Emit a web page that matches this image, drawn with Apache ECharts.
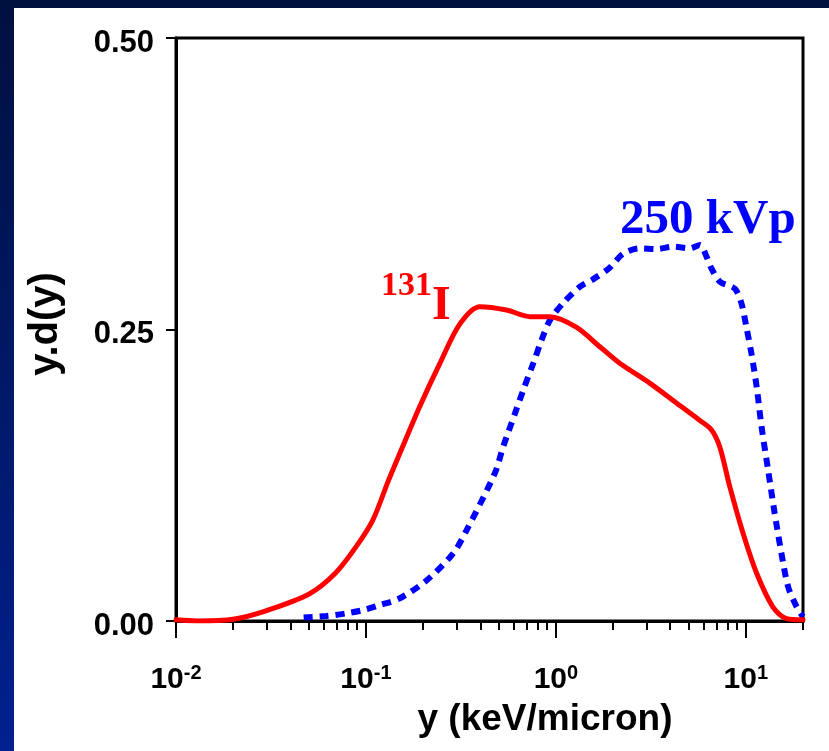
<!DOCTYPE html>
<html>
<head>
<meta charset="utf-8">
<script src="https://cdn.jsdelivr.net/npm/echarts@6/dist/echarts.min.js"></script>
<style>
html,body{margin:0;padding:0;}
body{width:829px;height:751px;background:linear-gradient(to bottom,#00103f 0%,#001a6e 60%,#00218f 100%);}
#chart{width:829px;height:751px;}
</style>
</head>
<body>
<div id="chart"></div>
<script>
// ---- data ----
const seriesNames = ['131I', '250 kVp'];
const iodineX = [0.01, 0.013, 0.02, 0.03, 0.05, 0.069, 0.089, 0.109, 0.131, 0.151, 0.192, 0.245, 0.313, 0.398, 0.55, 0.73, 0.93, 1.28, 1.71, 2.17, 3.12, 4.31, 5.73, 6.59, 7.3, 8.24, 9.68, 11.4, 13.9, 16.4, 20];
const iodineY = [0.001, 0.0, 0.0015, 0.009, 0.023, 0.041, 0.064, 0.087, 0.12, 0.144, 0.184, 0.221, 0.255, 0.2696, 0.2667, 0.261, 0.261, 0.252, 0.235, 0.221, 0.204, 0.187, 0.172, 0.164, 0.149, 0.115, 0.075, 0.041, 0.012, 0.002, 0.001];
const kvpX = [0.047, 0.062, 0.079, 0.097, 0.1186, 0.151, 0.209, 0.288, 0.339, 0.477, 0.528, 0.609, 0.673, 0.76, 0.841, 0.93, 1.09, 1.34, 1.55, 1.92, 2.26, 2.77, 3.39, 4.14, 5.07, 5.73, 6.21, 6.59, 7.3, 8.75, 9.48, 10.07, 10.7, 11.4, 12.1, 13.1, 14.2, 15.4, 16.7, 18.5, 20];
const kvpY = [0.003, 0.0043, 0.0066, 0.0094, 0.0137, 0.0195, 0.035, 0.058, 0.078, 0.1267, 0.1495, 0.178, 0.198, 0.221, 0.241, 0.258, 0.2725, 0.2867, 0.2925, 0.303, 0.315, 0.3196, 0.319, 0.321, 0.3196, 0.3225, 0.3125, 0.3025, 0.291, 0.285, 0.2725, 0.252, 0.2296, 0.201, 0.1667, 0.1295, 0.092, 0.058, 0.0294, 0.0123, 0.0037];
const xMajorTicks = [0.01, 0.1, 1, 10];
const xMajorExponents = ['-2', '-1', '0', '1'];
const xMinorTicks = [0.02,0.03,0.04,0.05,0.06,0.07,0.08,0.09,0.2,0.3,0.4,0.5,0.6,0.7,0.8,0.9,2,3,4,5,6,7,8,9,20];
const yTicks = [0, 0.25, 0.5];
const xTitle = 'y (keV/micron)';
const yTitle = 'y.d(y)';

const SANS = "'Liberation Sans', Arial, sans-serif";
const SERIF = "'Liberation Serif', 'Times New Roman', serif";

const chart = echarts.init(document.getElementById('chart'), null, {renderer: 'canvas'});
const zip = (xs, ys) => xs.map((x, i) => [x, ys[i]]);

chart.setOption({
  backgroundColor: 'transparent',
  animation: false,
  grid: {left: 176, top: 38, right: 26, bottom: 130, show: true, borderColor: '#000', borderWidth: 3, backgroundColor: 'transparent'},
  graphic: [
    {type: 'rect', z: -10, silent: true, shape: {x: 14, y: 8, width: 815, height: 743}, style: {fill: '#ffffff'}},
    {type: 'text', x: 381, y: 269, style: {text: '131', font: 'bold 34px ' + SERIF, fill: '#ff0000'}},
    {type: 'text', x: 432, y: 283, style: {text: 'I', font: 'bold 48px ' + SERIF, fill: '#ff0000'}},
    {type: 'text', x: 620, y: 196, style: {text: '250 kVp', font: 'bold 49px ' + SERIF, fill: '#0000ff'}},
    {type: 'text', x: 545, y: 720, style: {text: xTitle, font: 'bold 37px ' + SANS, fill: '#000', align: 'center', verticalAlign: 'middle'}},
    {type: 'text', x: 46, y: 324, rotation: Math.PI / 2, style: {text: yTitle, font: 'bold 40px ' + SANS, fill: '#000', align: 'center', verticalAlign: 'middle'}}
  ],
  xAxis: [
    {
      type: 'log', logBase: 10, min: 0.01, max: 20,
      axisLine: {show: true, onZero: false, lineStyle: {color: '#000', width: 3}},
      axisTick: {show: true, inside: false, length: 17, lineStyle: {color: '#000', width: 2}, customValues: xMajorTicks},
      axisLabel: {
        show: true, margin: 42, customValues: xMajorTicks, color: '#000',
        formatter: function (v) {
          const idx = xMajorTicks.findIndex(t => Math.abs(Math.log10(t) - Math.log10(v)) < 1e-6);
          return '{b|10}{s|' + (idx >= 0 ? xMajorExponents[idx] : '') + '}';
        },
        rich: {
          b: {fontSize: 30, fontWeight: 'bold', fontFamily: SANS, color: '#000', lineHeight: 34},
          s: {fontSize: 20, fontWeight: 'bold', fontFamily: SANS, color: '#000', lineHeight: 17, verticalAlign: 'top'}
        }
      },
      splitLine: {show: false}, minorTick: {show: false}
    },
    {
      type: 'log', logBase: 10, min: 0.01, max: 20, position: 'bottom',
      axisLine: {show: false},
      axisTick: {show: true, inside: false, length: 9, lineStyle: {color: '#000', width: 2}, customValues: xMinorTicks},
      axisLabel: {show: false},
      splitLine: {show: false}
    }
  ],
  yAxis: {
    type: 'value', min: 0, max: 0.5, interval: 0.25,
    axisLine: {show: true, lineStyle: {color: '#000', width: 3}},
    axisTick: {show: true, inside: false, length: 10, lineStyle: {color: '#000', width: 2}},
    axisLabel: {margin: 22, color: '#000', fontSize: 31, fontWeight: 'bold', fontFamily: SANS, verticalAlign: 'top', lineHeight: 10, formatter: v => v.toFixed(2)},
    splitLine: {show: false}
  },
  series: [
    {
      name: seriesNames[0], type: 'line', xAxisIndex: 0, data: zip(iodineX, iodineY),
      showSymbol: false, smooth: 0.3, z: 3,
      lineStyle: {color: '#ff0000', width: 5, cap: 'round', join: 'round'}
    },
    {
      name: seriesNames[1], type: 'line', xAxisIndex: 0, data: zip(kvpX, kvpY),
      showSymbol: false, smooth: 0.3, z: 2,
      lineStyle: {color: '#0000ff', width: 6, type: [9, 7], cap: 'butt'}
    }
  ]
});
</script>
</body>
</html>
